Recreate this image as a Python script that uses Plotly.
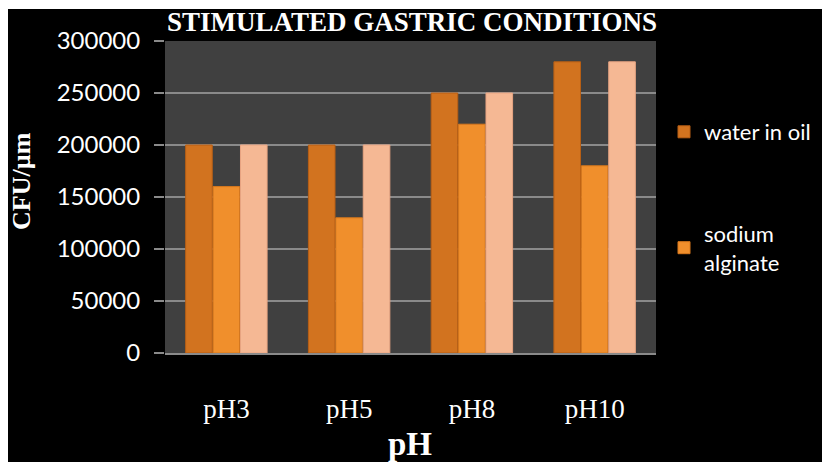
import plotly.graph_objects as go

categories = ["pH3", "pH5", "pH8", "pH10"]
water_in_oil = [200000, 200000, 250000, 280000]
sodium_alginate = [160000, 130000, 220000, 180000]
third_series = [200000, 200000, 250000, 280000]
y_ticks = [0, 50000, 100000, 150000, 200000, 250000, 300000]

W, H = 822, 462
L, R, T, B = 165, 166, 41, 109
pw, ph = W - L - R, H - T - B

def px_x(p):
    return (p - L) / pw

def px_y(p):
    return (H - B - p) / ph

fig = go.Figure()
fig.add_trace(go.Bar(name="water in oil", x=categories, y=water_in_oil,
                     marker=dict(color="#D2731F", line=dict(color="#B85F14", width=1)),
                     legendgroup="a"))
fig.add_trace(go.Bar(name="sodium<br>alginate", x=categories, y=sodium_alginate,
                     marker=dict(color="#F08F2C", line=dict(color="#D9781C", width=1)),
                     legendgroup="b"))
fig.add_trace(go.Bar(name="series 3", x=categories, y=third_series,
                     marker=dict(color="#F5B894", line=dict(color="#E8A482", width=1)),
                     showlegend=False, legendgroup="c"))

serif = "Liberation Serif"
sans = "Lato"

fig.update_layout(
    width=W, height=H,
    margin=dict(l=L, r=R, t=T, b=B, autoexpand=False),
    paper_bgcolor="black",
    plot_bgcolor="#404040",
    barmode="group",
    bargap=0.33,
    bargroupgap=0.03,
    showlegend=True,
    legend=dict(x=px_x(664), y=px_y(111), xanchor="left", yanchor="top",
                font=dict(family=sans, size=22, color="white"),
                bgcolor="rgba(0,0,0,0)", tracegroupgap=70,
                itemwidth=30),
    xaxis=dict(showgrid=False, showline=True, linecolor="#8a8a8a", linewidth=2,
               tickfont=dict(family=serif, size=27, color="white"),
               ticks="", ticklabelstandoff=31),
    yaxis=dict(range=[0, 300000], tickvals=y_ticks, ticktext=[str(v) for v in y_ticks],
               showgrid=True, gridcolor="#8a8a8a", gridwidth=1.5,
               ticks="outside", ticklen=10, tickcolor="#8a8a8a", tickwidth=1.5,
               tickfont=dict(family=sans, size=24, color="white"),
               ticklabelstandoff=9,
               zeroline=False, showline=False),
    shapes=[
        dict(type="rect", xref="paper", yref="paper", layer="below",
             x0=-3, x1=3, y0=px_y(9), y1=3,
             fillcolor="white", line=dict(width=0)),
        dict(type="rect", xref="paper", yref="paper", layer="below",
             x0=-3, x1=px_x(8), y0=-3, y1=3,
             fillcolor="white", line=dict(width=0)),
    ],
    annotations=[
        dict(text="<b>STIMULATED GASTRIC CONDITIONS</b>", xref="paper", yref="paper",
             x=px_x(412), y=px_y(22), xanchor="center", yanchor="middle", showarrow=False,
             font=dict(family=serif, size=27, color="white")),
        dict(text="<b>CFU/µm</b>", xref="paper", yref="paper",
             x=px_x(21), y=px_y(181), xanchor="center", yanchor="middle",
             showarrow=False, textangle=-90,
             font=dict(family=serif, size=26, color="white")),
        dict(text="<b>pH</b>", xref="paper", yref="paper",
             x=px_x(410), y=px_y(444), xanchor="center", yanchor="middle", showarrow=False,
             font=dict(family=serif, size=33, color="white")),
    ],
)

fig.write_html("out.html")
